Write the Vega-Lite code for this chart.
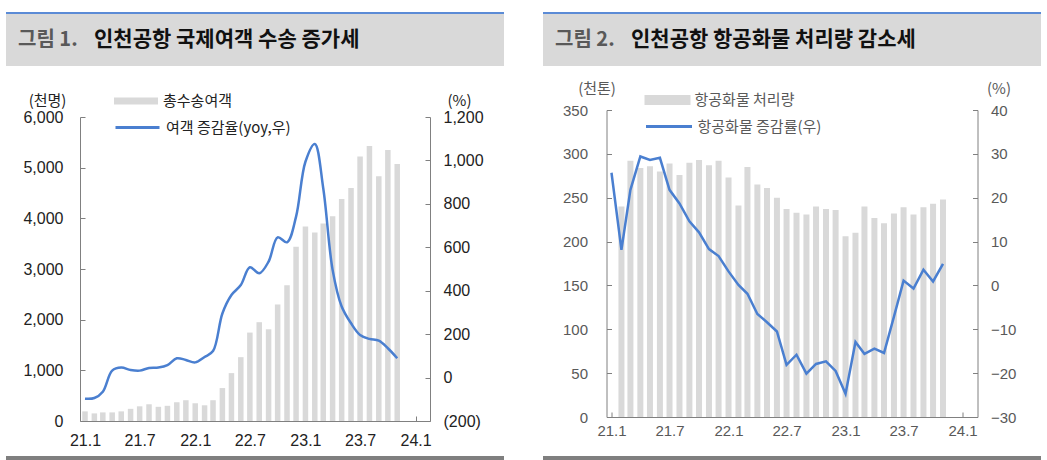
{
  "$schema": "https://vega.github.io/schema/vega-lite/v6.json",
  "padding": {"left": 5, "top": 12, "right": 5, "bottom": 0},
  "background": "white",
  "hconcat": [
    {
      "vconcat": [
        {
          "width": 498, "height": 54,
          "view": {"fill": "#d9d9d9", "stroke": null},
          "data": {"values": [{"fig": "그림 1.", "title": "인천공항 국제여객 수송 증가세"}]},
          "layer": [
            {"mark": {"type": "rule", "color": "#5b8bd6", "strokeWidth": 2}, "encoding": {"y": {"value": 1}}},
            {"mark": {"type": "text", "align": "left", "baseline": "middle", "font": "Noto Sans CJK KR", "fontSize": 20, "fontWeight": "bold", "color": "#595959"},
             "encoding": {"text": {"field": "fig"}, "x": {"value": 12}, "y": {"value": 28}}},
            {"mark": {"type": "text", "align": "left", "baseline": "middle", "font": "Noto Sans CJK KR", "fontSize": 21, "fontWeight": "bold", "color": "#111111"},
             "encoding": {"text": {"field": "title"}, "x": {"value": 88}, "y": {"value": 28}}}
          ]
        },
        {"width": 498, "height": 51, "data": {"values": []}, "mark": "point"},
        {
          "width": 350, "height": 304,
          "data": {"values": [
            {"date":"2021-01-01","v":190,"g":-97},
            {"date":"2021-02-01","v":150,"g":-94},
            {"date":"2021-03-01","v":170,"g":-65},
            {"date":"2021-04-01","v":170,"g":32},
            {"date":"2021-05-01","v":190,"g":46},
            {"date":"2021-06-01","v":240,"g":35},
            {"date":"2021-07-01","v":290,"g":32},
            {"date":"2021-08-01","v":330,"g":44},
            {"date":"2021-09-01","v":280,"g":46},
            {"date":"2021-10-01","v":300,"g":57},
            {"date":"2021-11-01","v":370,"g":89},
            {"date":"2021-12-01","v":410,"g":81},
            {"date":"2022-01-01","v":350,"g":70},
            {"date":"2022-02-01","v":310,"g":95},
            {"date":"2022-03-01","v":410,"g":122},
            {"date":"2022-04-01","v":650,"g":295},
            {"date":"2022-05-01","v":945,"g":380},
            {"date":"2022-06-01","v":1260,"g":426},
            {"date":"2022-07-01","v":1745,"g":508},
            {"date":"2022-08-01","v":1950,"g":480},
            {"date":"2022-09-01","v":1810,"g":534},
            {"date":"2022-10-01","v":2300,"g":646},
            {"date":"2022-11-01","v":2680,"g":623},
            {"date":"2022-12-01","v":3440,"g":741},
            {"date":"2023-01-01","v":3840,"g":994},
            {"date":"2023-02-01","v":3720,"g":1076},
            {"date":"2023-03-01","v":3900,"g":872},
            {"date":"2023-04-01","v":4040,"g":496},
            {"date":"2023-05-01","v":4380,"g":327},
            {"date":"2023-06-01","v":4600,"g":250},
            {"date":"2023-07-01","v":5220,"g":196},
            {"date":"2023-08-01","v":5430,"g":178},
            {"date":"2023-09-01","v":4830,"g":170},
            {"date":"2023-10-01","v":5350,"g":135},
            {"date":"2023-11-01","v":5070,"g":89}
          ]},
          "encoding": {
            "x": {"field": "date", "type": "temporal",
              "scale": {"type": "utc", "domain": [{"year":2021,"month":1,"date":1,"utc":true},{"year":2024,"month":2,"date":1,"utc":true}]},
              "axis": {"title": null, "values": [{"year":2021,"month":1,"date":1,"utc":true},{"year":2021,"month":7,"date":1,"utc":true},{"year":2022,"month":1,"date":1,"utc":true},{"year":2022,"month":7,"date":1,"utc":true},{"year":2023,"month":1,"date":1,"utc":true},{"year":2023,"month":7,"date":1,"utc":true},{"year":2024,"month":1,"date":1,"utc":true}],
                "labelExpr": "utcFormat(datum.value, '%y.') + (utcmonth(datum.value) + 1)", "tickSize": -5, "labelPadding": 16, "labelFontSize": 16, "labelColor": "#222222", "labelFlush": false, "labelOverlap": false}}
          },
          "layer": [
            {"mark": {"type": "bar", "size": 5.5},
             "encoding": {
               "y": {"field": "v", "type": "quantitative", "scale": {"domain": [0, 6000]},
                 "axis": {"orient": "left", "values": [0,1000,2000,3000,4000,5000,6000], "format": ",d", "tickSize": -5, "labelPadding": 22, "labelFontSize": 16, "labelColor": "#222222",
                   "title": "(천명)", "titleAngle": 0, "titleX": -33, "titleY": -17, "titleAlign": "center", "titleBaseline": "middle", "titleFontSize": 15, "titleColor": "#222222"}},
               "fill": {"datum": "총수송여객", "type": "nominal", "scale": {"range": ["#d9d9d9"]},
                 "legend": {"orient": "none", "legendX": 34, "legendY": -38, "title": null, "symbolType": "M-1,-0.16H1V0.16H-1Z", "symbolSize": 1936, "symbolStrokeWidth": 0, "labelFontSize": 15, "labelColor": "#222222", "labelOffset": 5, "padding": 0}}
             }},
            {"mark": {"type": "line", "interpolate": "catmull-rom", "strokeWidth": 2.5},
             "encoding": {
               "y": {"field": "g", "type": "quantitative", "scale": {"domain": [-200, 1200]},
                 "axis": {"orient": "right", "values": [-200,0,200,400,600,800,1000,1200], "labelExpr": "datum.value < 0 ? '(' + format(-datum.value, ',d') + ')' : format(datum.value, ',d')", "tickSize": -5, "labelPadding": 18, "labelFontSize": 16, "labelColor": "#222222",
                   "title": "(%)", "titleAngle": 0, "titleX": 29, "titleY": -17, "titleAlign": "center", "titleBaseline": "middle", "titleFontSize": 15, "titleColor": "#222222"}},
               "stroke": {"datum": "여객 증감율(yoy,우)", "type": "nominal", "scale": {"range": ["#4a7fd0"]},
                 "legend": {"orient": "none", "legendX": 34, "legendY": -13, "title": null, "symbolType": "M-1,0H1", "symbolSize": 1936, "symbolStrokeWidth": 3, "labelFontSize": 15, "labelColor": "#222222", "labelOffset": 5, "padding": 0}}
             }}
          ],
          "resolve": {"scale": {"y": "independent"}}
        },
        {"width": 498, "height": 35, "data": {"values": []}, "mark": "point"},
        {"width": 498, "height": 4, "view": {"fill": "#7f7f7f", "stroke": null}, "data": {"values": []}, "mark": "point"}
      ],
      "spacing": 0, "bounds": "flush", "center": true,
      "resolve": {"scale": {"fill": "independent", "stroke": "independent"}, "legend": {"fill": "independent", "stroke": "independent"}}
    },
    {
      "vconcat": [
        {
          "width": 498, "height": 54,
          "view": {"fill": "#d9d9d9", "stroke": null},
          "data": {"values": [{"fig": "그림 2.", "title": "인천공항 항공화물 처리량 감소세"}]},
          "layer": [
            {"mark": {"type": "rule", "color": "#5b8bd6", "strokeWidth": 2}, "encoding": {"y": {"value": 1}}},
            {"mark": {"type": "text", "align": "left", "baseline": "middle", "font": "Noto Sans CJK KR", "fontSize": 20, "fontWeight": "bold", "color": "#595959"},
             "encoding": {"text": {"field": "fig"}, "x": {"value": 12}, "y": {"value": 28}}},
            {"mark": {"type": "text", "align": "left", "baseline": "middle", "font": "Noto Sans CJK KR", "fontSize": 21, "fontWeight": "bold", "color": "#111111"},
             "encoding": {"text": {"field": "title"}, "x": {"value": 88}, "y": {"value": 28}}}
          ]
        },
        {"width": 498, "height": 44, "data": {"values": []}, "mark": "point"},
        {
          "width": 371, "height": 307,
          "data": {"values": [
            {"date":"2021-01-01","v":null,"g":25.7},
            {"date":"2021-02-01","v":240,"g":8.1},
            {"date":"2021-03-01","v":292,"g":21.8},
            {"date":"2021-04-01","v":284,"g":29.4},
            {"date":"2021-05-01","v":286,"g":28.6},
            {"date":"2021-06-01","v":280,"g":29.1},
            {"date":"2021-07-01","v":289,"g":21.8},
            {"date":"2021-08-01","v":276,"g":18.7},
            {"date":"2021-09-01","v":290,"g":14.6},
            {"date":"2021-10-01","v":293,"g":12.1},
            {"date":"2021-11-01","v":287,"g":8.3},
            {"date":"2021-12-01","v":292,"g":6.7},
            {"date":"2022-01-01","v":273,"g":3.2},
            {"date":"2022-02-01","v":241,"g":0.1},
            {"date":"2022-03-01","v":285,"g":-1.9},
            {"date":"2022-04-01","v":265,"g":-6.5},
            {"date":"2022-05-01","v":261,"g":-8.4},
            {"date":"2022-06-01","v":250,"g":-10.5},
            {"date":"2022-07-01","v":237,"g":-18.1},
            {"date":"2022-08-01","v":233,"g":-15.8},
            {"date":"2022-09-01","v":231,"g":-20.1},
            {"date":"2022-10-01","v":240,"g":-17.9},
            {"date":"2022-11-01","v":237,"g":-17.3},
            {"date":"2022-12-01","v":236,"g":-19.5},
            {"date":"2023-01-01","v":206,"g":-24.7},
            {"date":"2023-02-01","v":210,"g":-12.9},
            {"date":"2023-03-01","v":240,"g":-15.6},
            {"date":"2023-04-01","v":227,"g":-14.4},
            {"date":"2023-05-01","v":221,"g":-15.4},
            {"date":"2023-06-01","v":232,"g":-7.1},
            {"date":"2023-07-01","v":239,"g":1.1},
            {"date":"2023-08-01","v":231,"g":-0.7},
            {"date":"2023-09-01","v":239,"g":3.6},
            {"date":"2023-10-01","v":243,"g":0.9},
            {"date":"2023-11-01","v":248,"g":4.9}
          ]},
          "encoding": {
            "x": {"field": "date", "type": "temporal",
              "scale": {"type": "utc", "domain": [{"year":2021,"month":1,"date":1,"utc":true},{"year":2024,"month":2,"date":1,"utc":true}]},
              "axis": {"title": null, "values": [{"year":2021,"month":1,"date":1,"utc":true},{"year":2021,"month":7,"date":1,"utc":true},{"year":2022,"month":1,"date":1,"utc":true},{"year":2022,"month":7,"date":1,"utc":true},{"year":2023,"month":1,"date":1,"utc":true},{"year":2023,"month":7,"date":1,"utc":true},{"year":2024,"month":1,"date":1,"utc":true}],
                "labelExpr": "utcFormat(datum.value, '%y.') + (utcmonth(datum.value) + 1)", "tickSize": -5, "labelPadding": 11, "labelFontSize": 15, "labelColor": "#595959", "labelFlush": false, "labelOverlap": false}}
          },
          "layer": [
            {"mark": {"type": "bar", "size": 6},
             "encoding": {
               "y": {"field": "v", "type": "quantitative", "scale": {"domain": [0, 350]},
                 "axis": {"orient": "left", "values": [0,50,100,150,200,250,300,350], "tickSize": -5, "labelPadding": 24, "labelFontSize": 15, "labelColor": "#595959",
                   "title": "(천톤)", "titleAngle": 0, "titleX": -10, "titleY": -22, "titleAlign": "center", "titleBaseline": "middle", "titleFontSize": 15, "titleColor": "#595959"}},
               "fill": {"datum": "항공화물 처리량", "type": "nominal", "scale": {"range": ["#d9d9d9"]},
                 "legend": {"orient": "none", "legendX": 38, "legendY": -33, "title": null, "symbolType": "M-1,-0.22H1V0.22H-1Z", "symbolSize": 2116, "symbolStrokeWidth": 0, "labelFontSize": 15, "labelColor": "#595959", "labelOffset": 4, "padding": 0}}
             }},
            {"mark": {"type": "line", "strokeWidth": 2.5},
             "encoding": {
               "y": {"field": "g", "type": "quantitative", "scale": {"domain": [-30, 40]},
                 "axis": {"orient": "right", "values": [-30,-20,-10,0,10,20,30,40], "tickSize": -5, "labelPadding": 18, "labelFontSize": 15, "labelColor": "#595959",
                   "title": "(%)", "titleAngle": 0, "titleX": 21, "titleY": -22, "titleAlign": "center", "titleBaseline": "middle", "titleFontSize": 15, "titleColor": "#595959"}},
               "stroke": {"datum": "항공화물 증감률(우)", "type": "nominal", "scale": {"range": ["#4a7fd0"]},
                 "legend": {"orient": "none", "legendX": 38, "legendY": -8, "title": null, "symbolType": "M-1,0H1", "symbolSize": 2116, "symbolStrokeWidth": 3, "labelFontSize": 15, "labelColor": "#595959", "labelOffset": 4, "padding": 0}}
             }}
          ],
          "resolve": {"scale": {"y": "independent"}}
        },
        {"width": 498, "height": 39, "data": {"values": []}, "mark": "point"},
        {"width": 498, "height": 4, "view": {"fill": "#7f7f7f", "stroke": null}, "data": {"values": []}, "mark": "point"}
      ],
      "spacing": 0, "bounds": "flush", "center": true,
      "resolve": {"scale": {"fill": "independent", "stroke": "independent"}, "legend": {"fill": "independent", "stroke": "independent"}}
    }
  ],
  "spacing": 37,
  "resolve": {"scale": {"fill": "independent", "stroke": "independent"}, "legend": {"fill": "independent", "stroke": "independent"}},
  "config": {
    "view": {"stroke": null},
    "axis": {"labelFont": "Liberation Sans", "titleFont": "Noto Sans CJK KR", "titleFontWeight": "normal", "domainColor": "#808080", "tickColor": "#808080", "grid": false},
    "legend": {"labelFont": "Noto Sans CJK KR"}
  }
}
